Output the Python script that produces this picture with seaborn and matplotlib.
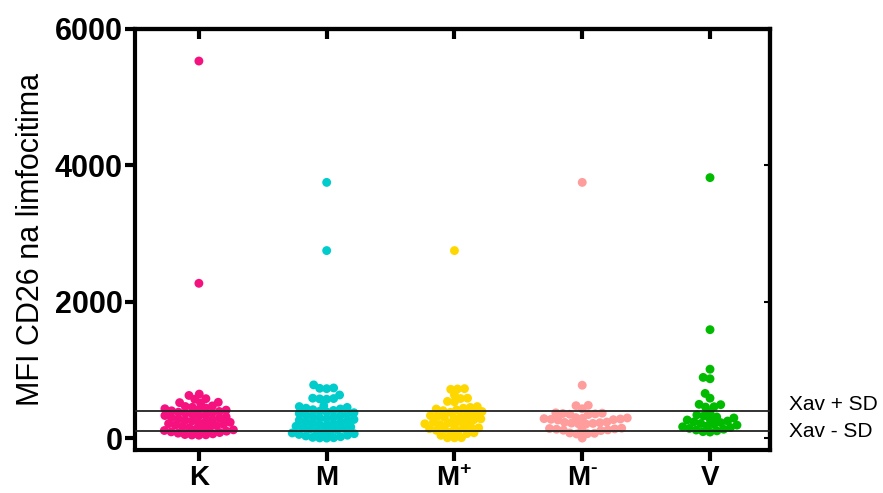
import numpy as np
import pandas as pd
import matplotlib
matplotlib.use("Agg")
import matplotlib.pyplot as plt
import matplotlib.transforms as mtransforms
import seaborn as sns

# skupine i boje
skupine = ["K", "M", "M+", "M-", "V"]
oznake = ["K", "M", r"M$^{\mathbf{+}}$", "M$^{\\mathbf{\u2010}}$", "V"]
boje = ["#F5127F", "#00CCCC", "#FFD700", "#FF9C9C", "#00BB00"]

# vrijednosti MFI CD26 (procijenjeno sa slike)
K = [5530, 2270, 645, 625, 578, 570, 525, 520, 515,
     472, 463, 452, 441, 430, 420, 410, 400, 390, 380, 371, 361, 351, 341,
     331, 321, 311, 301, 291, 281, 271, 261, 251, 241, 231, 221, 211, 201,
     191, 181, 171, 161, 151, 141, 131, 121, 111, 101, 91, 81, 72, 62, 52,
     48, 45, 42]
M = [3750, 2750, 780, 735, 730, 725, 632, 585, 580, 575, 570,
     472, 462, 450, 438, 427, 416, 405, 394, 383, 372, 361, 350, 339, 328,
     317, 306, 295, 284, 273, 262, 251, 240, 229, 218, 207, 196, 185, 174,
     163, 152, 141, 130, 119, 108, 97, 86, 75, 64, 53, 42, 31, 20, 10, 5,
     2, 0]
Mplus = [2750, 725, 720, 715, 632, 585, 580, 538, 532,
         462, 450, 438, 426, 414, 402, 390, 378, 366, 354, 342, 330, 318, 306,
         294, 282, 270, 258, 246, 234, 222, 210, 198, 186, 174, 162, 150, 138,
         126, 114, 102, 90, 78, 66, 40, 6, 5, 4]
Mminus = [3750, 775, 480, 475, 430, 370, 365, 360, 355, 350, 345, 300, 295,
          290, 285, 280, 275, 270, 265, 235, 230, 225, 220, 215, 210, 205,
          145, 140, 135, 130, 125, 120, 115, 110, 75, 70, 65, 60, 0]
V = [3820, 1590, 1010, 890, 870, 655, 585, 495, 490, 460, 455, 380, 340, 325,
     310, 295, 280, 265, 250, 238, 226, 214, 202, 190, 178, 166, 154, 142,
     130, 118, 106, 94, 88]

df = pd.DataFrame({
    "skupina": ["K"] * len(K) + ["M"] * len(M) + ["M+"] * len(Mplus)
               + ["M-"] * len(Mminus) + ["V"] * len(V),
    "MFI": K + M + Mplus + Mminus + V,
})

sns.set_style("ticks")
plt.rcParams["font.family"] = ["Liberation Sans", "DejaVu Sans"]
plt.rcParams["mathtext.fontset"] = "custom"
plt.rcParams["mathtext.bf"] = "Liberation Sans:bold"
for k in ["text.color", "axes.labelcolor", "xtick.color", "ytick.color"]:
    plt.rcParams[k] = "black"

fig = plt.figure(figsize=(8.83, 4.93), dpi=100)
ax = fig.add_axes([0.1529, 0.0872, 0.7192, 0.8540])

# swarm se slaze s manjim tockama, a crta s vecim (tocke se preklapaju)
sns.swarmplot(data=df, x="skupina", y="MFI", hue="skupina", order=skupine,
              hue_order=skupine, palette=boje, size=4.8, linewidth=0,
              legend=False, ax=ax, warn_thresh=1)

ax.axhline(390, color="#222222", lw=1.3, zorder=5)
ax.axhline(110, color="#222222", lw=1.3, zorder=5)

ax.set_xlim(-0.5, 4.47)
ax.set_ylim(-175, 6000)
ax.set_yticks([0, 2000, 4000, 6000])
ax.set_xticks(range(5))
ax.set_xticklabels(oznake)
ax.set_xlabel("")
ax.set_ylabel("MFI CD26 na limfocitima", fontsize=22, labelpad=6)

for s in ax.spines.values():
    s.set_visible(True)
    s.set_linewidth(3)
    s.set_color("black")

ax.tick_params(axis="y", direction="out", length=7, width=3, labelsize=22, pad=2)
ax.tick_params(axis="x", direction="out", length=8, width=3, labelsize=20, pad=3)
for t in ax.get_xticklabels() + ax.get_yticklabels():
    t.set_fontweight("bold")

gore = ax.secondary_xaxis("top")
gore.set_xticks(range(5))
gore.tick_params(direction="in", length=7, width=3, labeltop=False)
gore.spines["top"].set_linewidth(3)

desno = ax.secondary_yaxis("right")
desno.set_yticks([0, 2000, 4000, 6000])
desno.tick_params(direction="in", length=4, width=1.5, labelright=False)
desno.spines["right"].set_linewidth(3)

trans = mtransforms.blended_transform_factory(ax.transAxes, ax.transData)
ax.text(1.03, 493, "Xav + SD", transform=trans, va="center", ha="left", fontsize=15)
ax.text(1.03, 100, "Xav - SD", transform=trans, va="center", ha="left", fontsize=15)

# prvo crtanje rasporedi tocke, zatim ih povecamo
fig.canvas.draw()
for c in ax.collections:
    if "draw" in c.__dict__:
        del c.draw
        c.set_sizes([6.4 ** 2])

fig.savefig("out.png", dpi=100)
